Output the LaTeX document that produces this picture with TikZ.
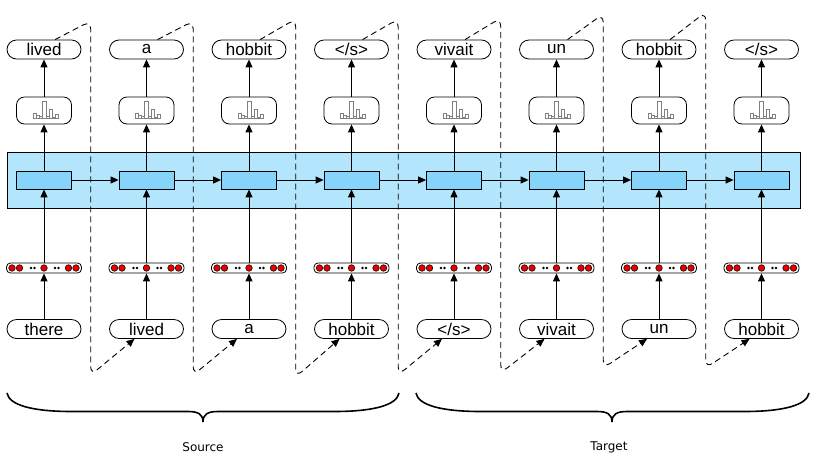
\documentclass[tikz,border=0pt]{standalone}
\usepackage{fontspec}
\setmainfont{Liberation Sans}
\newfontfamily\labfont{DejaVu Sans}
\usetikzlibrary{arrows.meta,calc}
\definecolor{bandblue}{RGB}{179,229,252}
\definecolor{cellblue}{RGB}{135,212,250}
\definecolor{dotred}{RGB}{232,0,0}
\def\eos{</s>}
\begin{document}
\begin{tikzpicture}[x=1pt,y=-1pt,
  word/.style={draw,line width=0.8pt,rounded corners=9.5pt,minimum width=74pt,minimum height=19pt,inner sep=0pt,font=\fontsize{17}{19}\selectfont},
  distbox/.style={draw,line width=0.8pt,rounded corners=8pt,minimum width=55pt,minimum height=27pt,inner sep=0pt},
  cellbox/.style={draw,line width=0.8pt,fill=cellblue,minimum width=55pt,minimum height=18pt,inner sep=0pt},
  embbox/.style={draw,line width=0.8pt,rounded corners=4pt,minimum width=75pt,minimum height=10pt,inner sep=0pt},
  conn/.style={line width=0.9pt,-{Triangle[length=8pt,width=7pt]}},
  dpath/.style={line width=0.9pt,dash pattern=on 6pt off 4pt,rounded corners=8pt,-{Triangle[length=8pt,width=7pt]}},
  bracepath/.style={line width=1.6pt},
  lab/.style={font=\labfont\fontsize{12}{14}\selectfont}]
\useasboundingbox (0,0) rectangle (818,467);
% band
\node[draw,line width=0.8pt,fill=bandblue,minimum width=793pt,minimum height=56pt,inner sep=0pt] (band) at (403.5,180) {};
% nodes
\foreach \i/\tw/\bw in {1/lived/there,2/a/lived,3/hobbit/a,4/\eos/hobbit,5/vivait/\eos,6/un/vivait,7/hobbit/un,8/\eos/hobbit}{
  \pgfmathsetmacro\cx{44+102.5*(\i-1)}
  \node[word] (t\i) at (\cx,49.5) {\tw};
  \node[distbox] (d\i) at (\cx,110.5) {};
  \node[embbox] (e\i) at (\cx,268) {};
  \node[word] (b\i) at (\cx,329) {\bw};
}
% dashed
\foreach \i/\yt/\yb in {1/21/375,2/21/375,3/19/377,4/19/375,5/18/373,6/14/368,7/12/368}{
  \pgfmathtruncatemacro\j{\i+1}
  \pgfmathsetmacro\xv{44+102.5*(\i-1)+46.7}
  \draw[dpath] ([xshift=11pt]t\i.north) -- (\xv,\yt) -- (\xv,\yb) -- ([xshift=-12pt]b\j.south);
}
% cells
\foreach \i in {1,...,8}{
  \pgfmathsetmacro\cx{44+102.5*(\i-1)}
  \node[cellbox] (c\i) at (\cx,180) {};
}
% icons and dots
\foreach \i in {1,...,8}{
  \begin{scope}[shift={(d\i.center)}]
    \foreach \a/\b/\h in {-11/-8/5,-8/-5/3,-5/-2/2,-2/2/17,2/5/2,5/8/9,8/11/1.5,11/14/4}
      \draw[gray,line width=0.5pt] (\a,8) rectangle (\b,8-\h);
  \end{scope}
  \begin{scope}[shift={(e\i.center)}]
    \foreach \a in {-32,-24.5,0,24.5,32}
      \draw[fill=dotred,line width=0.5pt] (\a,0) circle (3.3pt);
    \foreach \a in {-13,-9.5,11,14.5}
      \fill (\a,0) circle (1.3pt);
  \end{scope}
}
% connectors
\foreach \i in {1,...,8}{
  \draw[conn] (b\i.north) -- (e\i.south);
  \draw[conn] (e\i.north) -- (c\i.south);
  \draw[conn] (c\i.north) -- (d\i.south);
  \draw[conn] (d\i.north) -- (t\i.south);
}
\foreach \i in {1,...,7}{
  \pgfmathtruncatemacro\j{\i+1}
  \draw[conn] (c\i.east) -- (c\j.west);
}
% braces
\draw[bracepath] (7,393) .. controls (9,405) and (32,411.5) .. (72,411.5) -- (188,411.5) .. controls (198,411.5) and (203,414) .. (203,422) .. controls (203,414) and (208,411.5) .. (218,411.5) -- (334,411.5) .. controls (374,411.5) and (397,405) .. (399,393);
\draw[bracepath] (416,393) .. controls (418,405) and (441,411.5) .. (481,411.5) -- (597,411.5) .. controls (607,411.5) and (612,414) .. (612,422) .. controls (612,414) and (617,411.5) .. (627,411.5) -- (744,411.5) .. controls (784,411.5) and (807,405) .. (809,393);
\node[lab] (src) at (203,447) {Source};
\node[lab] (tgt) at (609,447) {Target};
\end{tikzpicture}
\end{document}
